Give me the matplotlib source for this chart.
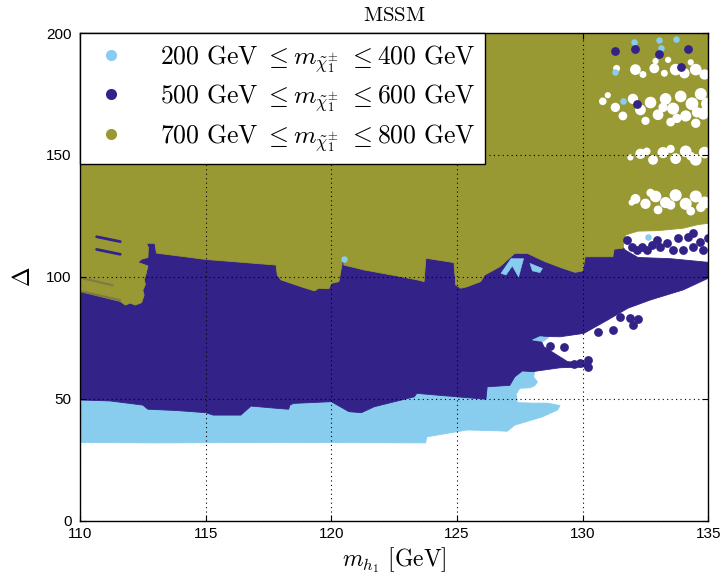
import matplotlib
matplotlib.use("Agg")
import matplotlib.pyplot as plt
from matplotlib.lines import Line2D

plt.rcParams['mathtext.fontset'] = 'cm'
plt.rcParams['font.family'] = ['Liberation Sans', 'DejaVu Sans']

SKY = '#88CCEE'
INDIGO = '#332288'
OLIVE = '#999933'

legend_labels = [
    r'$200\ \mathrm{GeV}\ \leq m_{\tilde{\chi}_1^{\pm}}\ \leq 400\ \mathrm{GeV}$',
    r'$500\ \mathrm{GeV}\ \leq m_{\tilde{\chi}_1^{\pm}}\ \leq 600\ \mathrm{GeV}$',
    r'$700\ \mathrm{GeV}\ \leq m_{\tilde{\chi}_1^{\pm}}\ \leq 800\ \mathrm{GeV}$',
]
x_ticks = [110, 115, 120, 125, 130, 135]
y_ticks = [0, 50, 100, 150, 200]

# --- 200-400 GeV chargino region (outline in m_h1, Delta) ---
light_x = [110, 113, 118, 123.75, 123.8, 124.2, 125.4, 126.5, 127.0, 127.3, 128.4, 129.0,
           129.1, 128.6, 128.0, 127.4, 127.35, 127.5, 127.9, 128.1, 128.2, 128.05, 128.1,
           127.8, 127.5, 127.2, 126.0, 123.5, 110]
light_y = [32.2, 32.0, 32.2, 32.0, 34.5, 35.2, 37.3, 37.0, 36.8, 39.3, 42.7, 45.5,
           47.3, 48.3, 48.3, 48.5, 52.0, 54.4, 54.6, 55.5, 57.0, 59.0, 61.5,
           63.0, 63.0, 58.0, 57.5, 55.0, 52.0]

# --- 500-600 GeV chargino region ---
mid_x = [110, 111.2, 112.5, 112.7, 113.8, 115.0, 115.3, 116.4, 116.8, 117.8, 118.3, 118.35,
         118.5, 120.0, 120.7, 121.2, 121.7, 123.3, 123.4, 126.15, 126.2, 127.1, 127.3, 127.6,
         128.0, 129.1, 130.2, 130.3, 129.4, 128.46, 128.3, 128.6, 129.1, 130.05, 131.0,
         131.8, 132.7, 134.0, 135.0, 135.0, 133.5, 132.2, 131.7, 131.6, 131.5, 110]
mid_y = [49.6, 49.2, 47.5, 45.8, 45.3, 44.4, 43.4, 43.4, 47.1, 46.2, 45.8, 47.5,
         48.2, 48.9, 44.8, 44.4, 46.8, 50.9, 52.3, 49.9, 55.0, 55.6, 59.1, 61.5,
         61.2, 62.8, 63.2, 64.6, 65.3, 71.4, 75.0, 75.6, 75.5, 76.9, 82.4,
         87.2, 90.6, 94.7, 99.5, 106.0, 107.5, 108.0, 111.0, 112.2, 125.0, 125.0]

# --- 700-800 GeV chargino region (lower edge, filled up to the top) ---
heavy_x = [110, 110, 111.6, 111.8, 112.0, 112.2, 112.45, 112.55, 112.5, 112.6, 112.55,
           112.62, 112.7, 112.3, 112.45, 112.7, 112.72, 112.65, 112.98, 113.04, 115.0,
           117.8, 117.85, 118.0, 118.8, 119.33, 119.5, 119.9, 120.0, 120.3, 120.42, 120.45,
           120.5, 121.3, 122.63, 123.43, 123.69, 123.76, 124.88, 124.95, 125.15, 125.4,
           125.94, 126.1, 126.7, 127.3, 127.8, 128.5, 129.2, 129.7, 130.0, 130.1, 131.2,
           131.25, 131.6, 131.7, 132.2, 133.0, 134.0, 134.6, 135.0, 135.0]
heavy_y = [200, 94.0, 90.0, 88.5, 89.3, 88.5, 89.5, 92.5, 94.5, 97.0, 99.0,
           101.0, 104.5, 106.0, 107.3, 108.0, 112.0, 113.8, 113.8, 109.8, 107.2,
           104.9, 100.8, 98.8, 96.0, 94.3, 95.4, 95.2, 97.4, 98.1, 104.9, 110.9,
           104.9, 102.9, 100.4, 98.8, 98.1, 107.7, 105.9, 96.7, 95.4, 96.0,
           98.1, 100.8, 104.2, 109.7, 109.7, 106.3, 103.6, 101.9, 102.5, 108.3, 108.3,
           111.4, 111.8, 117.2, 118.8, 119.0, 120.0, 121.5, 122.0, 200]

# light-blue pockets inside the 500-600 GeV band
pocket1_x = [126.75, 127.15, 127.65, 127.45, 127.2, 126.95]
pocket1_y = [101.5, 107.5, 107.5, 100.0, 104.5, 100.8]
pocket2_x = [127.9, 128.4, 128.3, 128.0]
pocket2_y = [105.6, 103.5, 101.8, 102.5]
pocket3_x = [128.0, 128.3, 128.65, 128.45, 128.2]
pocket3_y = [74.2, 75.6, 75.2, 73.6, 73.8]

# unpopulated spots among the 700-800 GeV points at high m_h1
gap_x = [131.35, 132.1, 132.85, 132.9, 133.7, 134.05, 134.5, 134.85, 133.4, 134.3, 132.4, 133.25,
         130.8, 131.3, 131.6, 132.0, 132.3, 132.7, 133.0, 133.3, 133.6, 133.9, 134.1,
         134.35, 134.7, 134.8, 132.5, 133.5, 134.5, 131.0, 134.95, 133.2, 134.55, 133.75,
         132.3, 132.8, 133.2, 133.7, 134.1, 134.5, 134.85, 131.9, 133.5, 132.55, 134.3,
         132.1, 132.5, 132.9, 133.3, 133.7, 134.1, 134.5, 134.85, 133.0, 134.3, 131.95,
         132.7, 133.5, 134.7]
gap_y = [185.5, 185, 185.5, 188.5, 185, 183.5, 185, 183, 189, 188, 183, 183.5,
         172, 169.5, 166, 173, 168.5, 171.5, 166.5, 173, 169, 174, 166,
         171, 175, 167, 164, 163.5, 163, 174.5, 171, 169.5, 167.5, 165,
         150.5, 148, 151, 148.5, 151.5, 148, 151, 149, 152.5, 151.5, 149.5,
         132, 130, 133, 130.5, 133.5, 130, 133, 130.5, 127.5, 127, 130.5,
         134.5, 129.5, 128.5]
gap_s = [25, 60, 50, 20, 70, 55, 70, 55, 20, 20, 25, 25,
         30, 45, 40, 55, 60, 70, 60, 70, 75, 70, 65,
         85, 75, 75, 35, 40, 45, 20, 75, 45, 55, 45,
         55, 50, 65, 60, 70, 70, 70, 20, 35, 30, 40,
         50, 55, 70, 65, 75, 75, 75, 75, 40, 40, 20,
         35, 45, 45]

# isolated 500-600 GeV points
dot_mid_x = [131.76, 131.96, 132.36, 132.56, 132.95, 133.08, 133.35, 133.81, 134.0, 134.2,
             134.4, 134.4, 134.67, 134.8, 135.0, 132.16, 132.75, 133.6,
             131.5, 131.9, 132.2, 131.2, 132.0, 130.6, 129.25, 128.7,
             129.65, 129.9, 130.2, 130.2,
             131.3, 132.1, 133.05, 134.2, 133.9, 132.15]
dot_mid_y = [115.2, 112.4, 112.4, 111.1, 115.2, 112.4, 113.8, 115.9, 111.1, 116.5,
             117.9, 112.4, 114.5, 111.1, 115.9, 111.1, 113.1, 111.1,
             83.7, 83.1, 82.7, 78.3, 80.3, 77.6, 71.4, 71.7,
             64.3, 64.9, 66.0, 63.3,
             192.5, 193.5, 191.5, 193.5, 186.0, 171.0]

# isolated 200-400 GeV points
dot_light_x = [132.6, 132.95, 132.2, 131.6, 131.3, 133.7, 132.05, 133.05, 133.1, 120.5]
dot_light_y = [116.5, 115.0, 111.5, 172.0, 184.0, 197.5, 196.5, 197.0, 194.0, 107.3]

# thin 500-600 GeV streaks inside the 700-800 GeV band at low m_h1
streak_x = [[110.66, 111.6], [110.66, 111.6]]
streak_y = [[116.5, 114.5], [111.3, 109.3]]
faint_x = [[110.1, 111.3], [110.1, 111.6]]
faint_y = [[99.5, 96.6], [94.0, 90.5]]

fig = plt.figure(figsize=(7.23, 5.81), dpi=100)
ax = fig.add_axes([0.1107, 0.1033, 0.8690, 0.8399])

ax.fill(light_x, light_y, color=SKY, lw=0.6, zorder=1)
ax.fill(mid_x, mid_y, color=INDIGO, lw=0.6, zorder=1.1)
ax.fill(pocket1_x, pocket1_y, color=SKY, lw=0.4, zorder=1.15)
ax.fill(pocket2_x, pocket2_y, color=SKY, lw=0.4, zorder=1.15)
for sx, sy in zip(faint_x, faint_y):
    ax.plot(sx, sy, color=INDIGO, lw=1.6, alpha=0.25, solid_capstyle='round', zorder=1.25)
ax.fill(heavy_x, heavy_y, color=OLIVE, lw=0.6, zorder=1.2)
for sx, sy in zip(streak_x, streak_y):
    ax.plot(sx, sy, color=INDIGO, lw=2.0, solid_capstyle='round', zorder=1.3)
ax.scatter(gap_x, gap_y, s=gap_s, color='white', lw=0, zorder=1.3)
ax.fill(pocket3_x, pocket3_y, color=SKY, lw=0.4, zorder=1.35)
ax.scatter(dot_light_x, dot_light_y, s=22, color=SKY, lw=0, zorder=1.4)
ax.scatter(dot_mid_x, dot_mid_y, s=40, color=INDIGO, lw=0, zorder=1.45)

ax.set_xlim(110, 135)
ax.set_ylim(0, 200)
ax.set_xticks(x_ticks)
ax.set_yticks(y_ticks)
ax.tick_params(direction='in', length=4, width=0.8, labelsize=11, top=True, right=True)
ax.tick_params(axis='y', pad=6)
ax.tick_params(axis='x', pad=4)
ax.set_axisbelow(False)
ax.grid(True, color='black', linestyle=(0, (1, 3)), linewidth=0.8)
for sp in ax.spines.values():
    sp.set_linewidth(1.0)

ax.set_title(r'$\mathrm{MSSM}$', fontsize=15, pad=9)
ax.set_xlabel(r'$m_{h_1}\ [\mathrm{GeV}]$', fontsize=17, labelpad=3)
ax.set_ylabel(r'$\Delta$', fontsize=17, labelpad=8)

handles = [Line2D([], [], ls='none', marker='o', markersize=8, color=c, markeredgewidth=0)
           for c in (SKY, INDIGO, OLIVE)]
leg = ax.legend(handles, legend_labels, loc='upper left', fontsize=18.5, frameon=True,
                fancybox=False, framealpha=1, edgecolor='black', borderaxespad=0,
                handlelength=1.6, handletextpad=1.1, labelspacing=0.28, borderpad=0.4)
leg.get_frame().set_linewidth(1.0)
leg.set_zorder(5)

fig.savefig('out.png', dpi=100)
